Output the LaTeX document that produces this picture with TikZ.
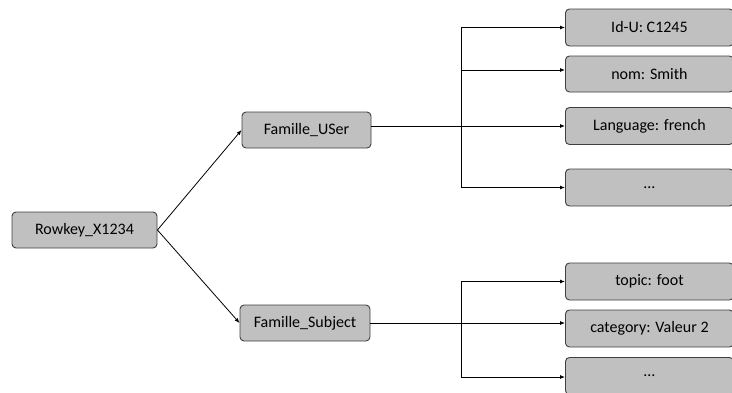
\documentclass[tikz,border=0pt]{standalone}
\usepackage{fontspec}
\setmainfont{Carlito}
\usetikzlibrary{arrows.meta}
\definecolor{boxfill}{RGB}{192,192,192}
\definecolor{boxline}{RGB}{64,64,64}
\tikzset{
  box/.style={draw=boxline, fill=boxfill, rounded corners=4pt, line width=0.9pt,
    minimum height=36pt, inner sep=0pt, font=\fontsize{16}{19}\selectfont, text=black},
  leaf/.style={box, minimum width=168pt, minimum height=37pt, anchor=west},
  conn/.style={draw=black, line width=0.8pt, -{Latex[length=5pt,width=4pt]}},
  plain/.style={draw=black, line width=0.8pt}
}
\begin{document}
\begin{tikzpicture}[x=1pt,y=-1pt]
\useasboundingbox (0,0) rectangle (732,392);
\clip (0,0) rectangle (732,392);
\node[box, minimum width=145pt] (row) at (84.5,230) {Rowkey\_X1234};
\node[box, minimum width=129pt] (user) at (306.5,130) {Famille\_USer};
\node[box, minimum width=130pt] (subj) at (305,323) {Famille\_Subject};

\node[leaf] (idu) at (565,27.5) {Id-U: C1245};
\node[leaf, minimum height=36pt] (nom) at (565,74) {nom: Smith};
\node[leaf] (lang) at (565,126) {Language: french};
\node[leaf] (udots) at (565,187.5) {\ldots};

\node[leaf] (topic) at (565,281.5) {topic: foot};
\node[leaf] (cat) at (565,328.5) {category: Valeur 2};
\node[leaf] (sdots) at (565,376) {\ldots};

\draw[conn] (row.east) -- (user.west);
\draw[conn] (row.east) -- (subj.west);

\coordinate (ut) at (461,27.5);
\coordinate (ub) at (461,187.5);
\coordinate (un) at (461,70);
\draw[plain] (ut) -- (ub);
\draw[conn] (ut) -- (idu.west);
\draw[conn] (un) -- (un -| nom.west);
\draw[conn] (ub) -- (udots.west);
\draw[conn] (user.east |- lang.west) -- (lang.west);

\coordinate (st) at (461,281.5);
\coordinate (sb) at (461,377);
\draw[plain] (st) -- (sb);
\draw[conn] (st) -- (topic.west);
\draw[conn] (sb) -- (sb -| sdots.west);
\draw[conn] (subj.east) -- (subj.east -| cat.west);
\end{tikzpicture}
\end{document}
